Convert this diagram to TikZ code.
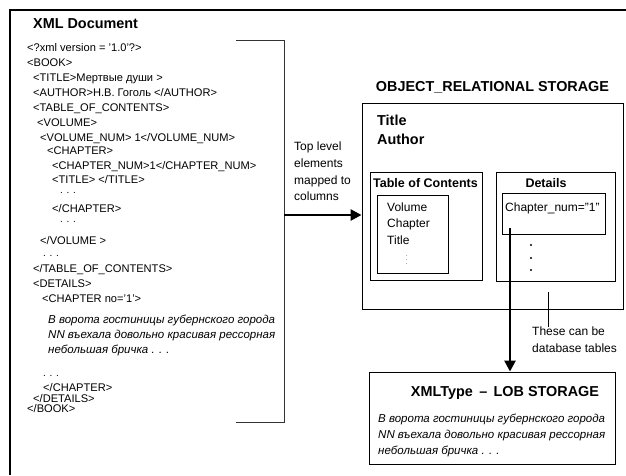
\documentclass[tikz,border=0pt]{standalone}
\usepackage{fontspec}
\setmainfont{Liberation Sans}
\usetikzlibrary{arrows.meta}
\begin{document}
\begin{tikzpicture}[x=1pt,y=-1pt,
  xl/.style={anchor=west,inner sep=0pt,text height=8pt,text depth=2pt,font=\fontsize{11.1}{13}\selectfont},
  xd/.style={anchor=west,inner sep=0pt,text height=1.5pt,text depth=0pt,font=\fontsize{10}{12}\selectfont},
  xi/.style={anchor=west,inner sep=0pt,text height=8pt,text depth=2pt,font=\fontsize{11.5}{13}\selectfont\itshape},
  hd/.style={inner sep=0pt,text height=10pt,text depth=3pt,font=\fontsize{14.4}{16}\selectfont\bfseries},
  sub/.style={inner sep=0pt,text height=9pt,text depth=3pt,font=\fontsize{12.5}{15}\selectfont\bfseries},
  rl/.style={anchor=west,inner sep=0pt,text height=8.5pt,text depth=2pt,font=\fontsize{12}{14}\selectfont},
  bx/.style={draw,line width=0.9pt,inner sep=0pt},
  bigarrow/.style={line width=2.6pt,-{Triangle[length=11pt,width=11pt]}},
  dotc/.style={fill,circle,inner sep=0pt,minimum size=2.4pt},
]
\useasboundingbox (0,0) rectangle (626,475);
% outer frame
\coordinate (f0) at (10,10);
\coordinate (f1) at (626,10);
\coordinate (f2) at (10,475);
\draw[line width=1.2pt] (f1) -- (f0) -- (f2);

% XML document
\node[hd,anchor=west] (xmlh) at (33,25) {XML Document};
\node[xl] (l1) at (27,48) {<?xml version = '1.0'?>};
\node[xl] (l2) at (27,63) {<BOOK>};
\node[xl] (l3) at (33,78) {<TITLE>Мертвые души >};
\node[xl] (l4) at (33,93) {<AUTHOR>Н.В. Гоголь </AUTHOR>};
\node[xl] (l5) at (33,108) {<TABLE\_OF\_CONTENTS>};
\node[xl] (l6) at (37,123) {<VOLUME>};
\node[xl] (l7) at (40,138) {<VOLUME\_NUM> 1</VOLUME\_NUM>};
\node[xl] (l8) at (47,151) {<CHAPTER>};
\node[xl] (l9) at (52,166) {<CHAPTER\_NUM>1</CHAPTER\_NUM>};
\node[xl] (l10) at (52,180) {<TITLE> </TITLE>};
\node[xd] (l11) at (60,193) {. . .};
\node[xl] (l12) at (52,209) {</CHAPTER>};
\node[xd] (l13) at (60,222) {. . .};
\node[xl] (l14) at (40,241) {</VOLUME >};
\node[xd] (l15) at (43,256) {. . .};
\node[xl] (l16) at (33,269) {</TABLE\_OF\_CONTENTS>};
\node[xl] (l17) at (33,284) {<DETAILS>};
\node[xl] (l18) at (42,299) {<CHAPTER no='1'>};
\node[xi] (l19) at (48,320) {В ворота гостиницы губернского города};
\node[xi] (l20) at (48,335) {NN въехала довольно красивая рессорная};
\node[xi] (l21) at (48,350) {небольшая бричка . . .};
\node[xd] (l22) at (43,376) {. . .};
\node[xl] (l23) at (43,388) {</CHAPTER>};
\node[xl] (l24) at (33,399) {</DETAILS>};
\node[xl] (l25) at (27,409) {</BOOK>};

% bracket
\coordinate (b1) at (236,40);
\coordinate (b2) at (284,40);
\coordinate (b3) at (284,422);
\coordinate (b4) at (236,422);
\coordinate (bm) at (284,215);
\draw[line width=1pt,black!80] (b1) -- (b2) -- (b3) -- (b4);

% label
\node[anchor=north west,inner sep=0pt,align=left,font=\fontsize{12}{16.6}\selectfont] (lbl) at (294,142) {Top level\\elements\\mapped to\\columns};

% object relational storage
\node[hd] (orh) at (492.5,88) {OBJECT\_RELATIONAL STORAGE};
\node[bx,minimum width=261pt,minimum height=206pt] (ors) at (492.5,206) {};
\node[hd,anchor=west] (ttl) at (377,122) {Title};
\node[hd,anchor=west] (aut) at (377,141) {Author};

\node[bx,minimum width=112pt,minimum height=108pt] (toc) at (426,226) {};
\node[sub] (toch) at (425.5,184) {Table of Contents};
\node[bx,minimum width=71pt,minimum height=78pt] (tocin) at (412.5,234) {};
\node[rl] (v1) at (387,208) {Volume};
\node[rl] (v2) at (387,224) {Chapter};
\node[rl] (v3) at (387,241) {Title};
\node[inner sep=0pt,font=\fontsize{5.5}{6}\selectfont] (v4) at (407,257) {$\vdots$};

\node[bx,minimum width=119pt,minimum height=109pt] (det) at (555.5,226.5) {};
\node[sub] (deth) at (546,184) {Details};
\node[bx,minimum width=103pt,minimum height=41pt] (chb) at (553.5,213.5) {};
\node[rl] (chn) at (505,208) {Chapter\_num="1"};
\node[dotc] (d1) at (531,245) {};
\node[dotc] (d2) at (531,258) {};
\node[dotc] (d3) at (531,270) {};

% main arrow
\draw[bigarrow] (bm) -- (bm -| ors.west);

% LOB storage
\node[bx,minimum width=246pt,minimum height=92pt] (lob) at (492,418) {};
\node[hd] (lobh) at (505,393) {XMLType\, –\, LOB STORAGE};
\node[xi] (r1) at (378,419) {В ворота гостиницы губернского города};
\node[xi] (r2) at (378,435) {NN въехала довольно красивая рессорная};
\node[xi] (r3) at (378,451) {небольшая бричка . . .};

\coordinate (cs) at (510,228);
\draw[bigarrow] (cs) -- (cs |- lob.north);

% note
\coordinate (np) at (548,292);
\node[anchor=north west,inner sep=0pt,align=left,font=\fontsize{12}{16.5}\selectfont] (note) at (532,327) {These can be\\database tables};
\draw[line width=0.8pt] (np) -- (np |- note.north);
\end{tikzpicture}
\end{document}
